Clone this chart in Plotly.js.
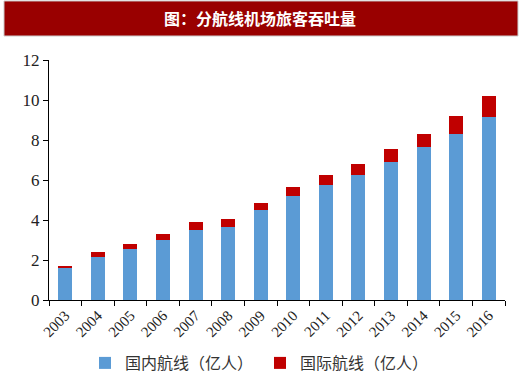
<!DOCTYPE html>
<html>
<head>
<meta charset="utf-8">
<script src="https://cdn.plot.ly/plotly-3.0.1.min.js"></script>
<style>html,body{margin:0;padding:0;background:#fff;}#chart{width:520px;height:375px;}</style>
</head>
<body>
<div id="chart"></div>
<script>
const years = ['2003','2004','2005','2006','2007','2008','2009','2010','2011','2012','2013','2014','2015','2016'];
const domestic = [1.61, 2.16, 2.54, 2.99, 3.49, 3.67, 4.50, 5.20, 5.74, 6.23, 6.91, 7.63, 8.31, 9.14];
const international = [0.10, 0.25, 0.28, 0.32, 0.40, 0.38, 0.37, 0.47, 0.49, 0.57, 0.64, 0.68, 0.88, 1.06];
const seriesNames = ['国内航线（亿人）', '国际航线（亿人）'];
const chartTitle = '图：分航线机场旅客吞吐量';

const traces = [
  {type:'bar', x: years, y: domestic, name: seriesNames[0], marker:{color:'#5B9BD5'}},
  {type:'bar', x: years, y: international, name: seriesNames[1], marker:{color:'#C00000'}}
];
const layout = {
  width:520, height:375,
  margin:{l:49, r:15, t:60, b:75, autoexpand:false},
  barmode:'stack', bargap:0.57,
  paper_bgcolor:'#fff', plot_bgcolor:'#fff',
  showlegend:true,
  legend:{orientation:'h', traceorder:'normal', x:0.5, xanchor:'center', xref:'container',
    y:0.032, yanchor:'middle', yref:'container', entrywidth:130, entrywidthmode:'pixels',
    font:{family:'Noto Sans CJK SC', size:16, color:'#333'}, itemwidth:20},
  xaxis:{type:'category', showline:true, linecolor:'#000', linewidth:1, ticks:'outside', ticklen:5,
    tickcolor:'#000', tickson:'boundaries', tickangle:-45, automargin:false,
    tickfont:{family:'Liberation Serif', size:15, color:'#222'}, showgrid:false, zeroline:false},
  yaxis:{range:[0,12], dtick:2, showline:true, linecolor:'#000', linewidth:1, ticks:'outside', ticklen:5,
    tickcolor:'#000', automargin:false, tickfont:{family:'Liberation Serif', size:17, color:'#222'}, showgrid:false, zeroline:false},
  shapes:[{type:'rect', xref:'paper', yref:'paper', x0:-0.0987, x1:1.0285, y0:1.1, y1:1.246,
    fillcolor:'#990000', line:{color:'#ccc', width:1}, layer:'above'}],
  annotations:[{xref:'paper', yref:'paper', x:0.4627, y:1.173, text:'<b>'+chartTitle+'</b>', showarrow:false,
    xanchor:'center', yanchor:'middle', font:{family:'Noto Sans CJK SC', size:16, color:'#fff'}}]
};
Plotly.newPlot('chart', traces, layout, {displayModeBar:false, staticPlot:true});
</script>
</body>
</html>
